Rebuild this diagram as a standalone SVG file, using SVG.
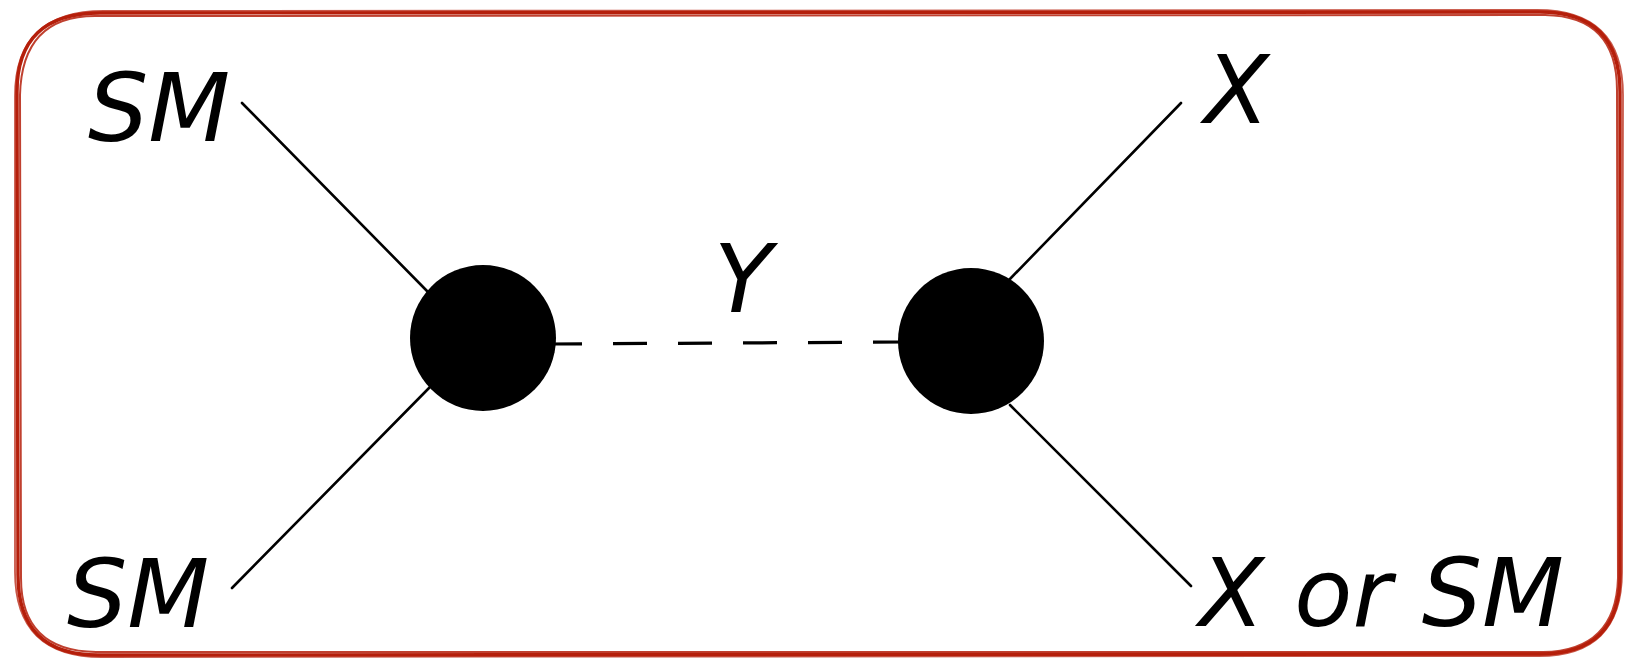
<svg xmlns="http://www.w3.org/2000/svg" width="1638" height="658" viewBox="0 0 1638 658">
<style>
.frame{fill:none;stroke:#b51f0b;stroke-linecap:round;stroke-linejoin:round}
.leg{stroke:#000;stroke-width:2.6;stroke-linecap:round}
.prop{stroke:#000;stroke-width:3.2;stroke-dasharray:34 31}
.vtx{fill:#000}
.lbl{font-family:"DejaVu Sans",sans-serif;font-style:oblique;font-size:95px;fill:#000}
</style>
<rect width="1638" height="658" fill="#fff"/>
<g id="frame">
<path class="frame" stroke-width="3.4" d="M100 13 L1540 12 Q1620 12 1620 92 L1620 575 Q1620 654 1540 654 L98 655 Q18 655 18 575 L17 92 Q17 13 100 13 Z"/>
<path class="frame" stroke-width="2" opacity="0.85" d="M95 16 L1545 15 Q1617 16 1617 90 L1618 578 Q1616 651 1543 652 L96 652 Q21 651 21 578 L20 95 Q22 16 95 16 Z"/>
<path class="frame" stroke-width="1.8" opacity="0.75" d="M104 11 L1537 10 Q1623 10 1623 95 L1622 572 Q1622 657 1537 656 L102 657 Q15 657 15 572 L15 96 Q15 11 104 11 Z"/>
</g>
<g id="connectors">
<line class="leg" x1="242" y1="103" x2="428" y2="292"/>
<line class="leg" x1="232" y1="588" x2="430" y2="387"/>
<line class="leg" x1="1181" y1="103" x2="1009" y2="280"/>
<line class="leg" x1="1191" y1="586" x2="1010" y2="405"/>
<line class="prop" x1="548" y1="344" x2="907" y2="342"/>
</g>
<g id="vertex-left"><circle class="vtx" cx="483" cy="338" r="73"/></g>
<g id="vertex-right"><circle class="vtx" cx="971" cy="341" r="73"/></g>
<g id="label-sm-top"><text class="lbl" x="88" y="141">SM</text></g>
<g id="label-sm-bottom"><text class="lbl" x="67" y="627">SM</text></g>
<g id="label-x-top"><text class="lbl" x="1204" y="123">X</text></g>
<g id="label-x-or-sm"><text class="lbl" x="1199" y="626">X or SM</text></g>
<g id="label-y"><text class="lbl" x="714" y="312">Y</text></g>
</svg>
